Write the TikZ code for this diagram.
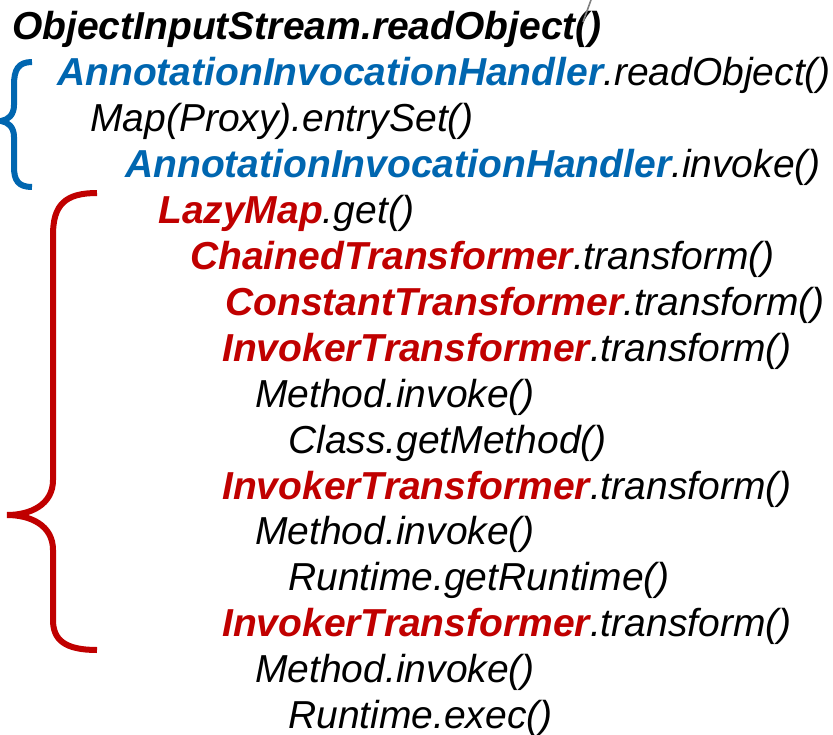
\documentclass[tikz,border=0pt]{standalone}
\usepackage{fontspec}
\setmainfont{Liberation Sans}
\definecolor{gadgetblue}{RGB}{0,102,176}
\definecolor{gadgetred}{RGB}{192,0,0}
\tikzset{call/.style={anchor=base west, inner sep=0pt, font=\fontsize{29.25}{35}\selectfont\itshape},
  curly/.style={line width=4.5pt}}
\newcommand{\cls}[2]{\textcolor{#1}{\bfseries #2}}
\begin{document}
\begin{tikzpicture}[x=0.75pt,y=-0.75pt]
\useasboundingbox (0,0) rectangle (833,735);
\node[call] (cid0) at (12,40){\bfseries ObjectInputStream.readObject()};
\node[call] (cid1) at (57,85.9){\cls{gadgetblue}{AnnotationInvocationHandler}.readObject()};
\node[call] (cid2) at (90,131.8){Map(Proxy).entrySet()};
\node[call] (cid3) at (125,177.7){\cls{gadgetblue}{AnnotationInvocationHandler}.invoke()};
\node[call] (cid4) at (158,223.6){\cls{gadgetred}{LazyMap}.get()};
\node[call] (cid5) at (190,269.5){\cls{gadgetred}{ChainedTransformer}.transform()};
\node[call] (cid6) at (225,315.4){\cls{gadgetred}{ConstantTransformer}.transform()};
\node[call] (cid7) at (222,361.3){\cls{gadgetred}{InvokerTransformer}.transform()};
\node[call] (cid8) at (255,407.2){Method.invoke()};
\node[call] (cid9) at (288,453.1){Class.getMethod()};
\node[call] (cid10) at (222,499){\cls{gadgetred}{InvokerTransformer}.transform()};
\node[call] (cid11) at (255,544.9){Method.invoke()};
\node[call] (cid12) at (288,590.8){Runtime.getRuntime()};
\node[call] (cid13) at (222,636.7){\cls{gadgetred}{InvokerTransformer}.transform()};
\node[call] (cid14) at (255,682.6){Method.invoke()};
\node[call] (cid15) at (288,728.5){Runtime.exec()};
% braces
\draw[curly, gadgetblue] (32,62) .. controls (18,62) and (14,70) .. (14,85) -- (14,105)
  .. controls (14,115) and (8,120) .. (1,121) .. controls (8,122) and (14,127) .. (14,137)
  -- (14,167) .. controls (14,180) and (18,187) .. (32,187);
\draw[curly, gadgetred] (97,193) .. controls (65,193) and (53,205) .. (53,235) -- (53,480)
  .. controls (53,505) and (30,515) .. (7,515) .. controls (30,515) and (53,525) .. (53,550)
  -- (53,620) .. controls (53,640) and (65,650) .. (97,650);
\draw[gray, line width=1.2pt] (591,0) -- (583,22);
\end{tikzpicture}
\end{document}
